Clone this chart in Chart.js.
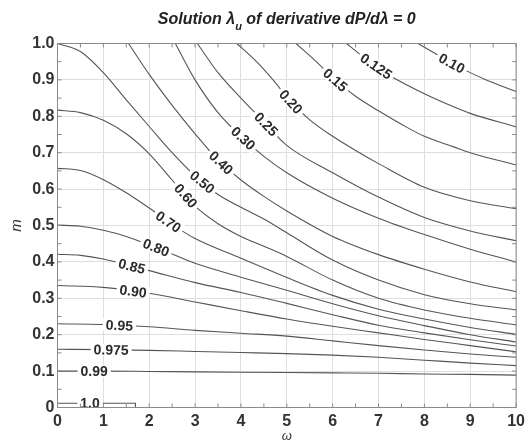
<!DOCTYPE html>
<html>
<head>
<meta charset="utf-8">
<script src="https://cdn.jsdelivr.net/npm/chart.js@4.4.0/dist/chart.umd.min.js"></script>
<style>
  html, body { margin: 0; padding: 0; background: #fff; }
</style>
</head>
<body>
<canvas id="contourChart" width="529" height="443"></canvas>
<script>
// contour levels (lambda_u) and the omega/m points of every line
const levels = ["0.10", "0.125", "0.15", "0.20", "0.25", "0.30", "0.40", "0.50",
                "0.60", "0.70", "0.80", "0.85", "0.90", "0.95", "0.975", "0.99", "1.0"];

const omega010 = [7.86, 8.2, 8.6, 9, 9.35, 10];
const m010 = [1.0, 0.975, 0.946, 0.92, 0.9, 0.868];

const omega0125 = [6.3, 6.6, 6.92, 7.3, 8, 8.64, 9, 10];
const m0125 = [1.0, 0.97, 0.94, 0.908, 0.862, 0.826, 0.808, 0.771];

const omega015 = [5.2, 5.6, 6.06, 6.5, 7, 7.5, 8, 8.64, 9, 10];
const m015 = [1.0, 0.955, 0.9, 0.855, 0.815, 0.778, 0.745, 0.716, 0.7, 0.666];

const omega020 = [3.91, 4.34, 4.7, 5.09, 5.5, 6, 6.5, 7, 8, 9, 10];
const m020 = [1.0, 0.95, 0.9, 0.84, 0.79, 0.745, 0.706, 0.67, 0.605, 0.568, 0.546];

const omega025 = [3.05, 3.5, 4, 4.5, 5, 6, 7, 8, 9, 10];
const m025 = [1.0, 0.92, 0.85, 0.785, 0.72, 0.645, 0.578, 0.522, 0.485, 0.458];

const omega030 = [2.57, 3, 3.5, 4, 4.5, 5, 6, 7, 8, 9, 10];
const m030 = [1.0, 0.9, 0.81, 0.745, 0.69, 0.645, 0.575, 0.52, 0.475, 0.435, 0.40];

const omega040 = [1.55, 2, 2.5, 3, 3.5, 4, 4.5, 5, 6, 7, 8, 9, 10];
const m040 = [1.0, 0.915, 0.83, 0.752, 0.68, 0.625, 0.58, 0.54, 0.47, 0.42, 0.38, 0.345, 0.318];

const omega050 = [0, 0.5, 1, 1.5, 2, 2.5, 3, 3.5, 4, 4.5, 5, 6, 7, 8, 9, 10];
const m050 = [1.0, 0.978, 0.92, 0.845, 0.772, 0.70, 0.636, 0.585, 0.55, 0.518, 0.48, 0.405, 0.35, 0.31, 0.285, 0.268];

const omega060 = [0, 0.5, 1, 1.5, 2, 2.5, 3, 3.5, 4, 4.5, 5, 6, 7, 8, 9, 10];
const m060 = [0.817, 0.81, 0.789, 0.752, 0.697, 0.625, 0.553, 0.505, 0.47, 0.443, 0.415, 0.35, 0.30, 0.268, 0.245, 0.227];

const omega070 = [0, 0.5, 1, 1.5, 2, 2.5, 3, 4, 5, 6, 7, 8, 9, 10];
const m070 = [0.657, 0.651, 0.626, 0.59, 0.548, 0.503, 0.464, 0.41, 0.357, 0.308, 0.27, 0.243, 0.22, 0.201];

const omega080 = [0, 0.5, 1, 1.5, 2, 2.5, 3, 4, 5, 6, 7, 8, 9, 10];
const m080 = [0.501, 0.498, 0.487, 0.47, 0.447, 0.422, 0.396, 0.358, 0.322, 0.285, 0.252, 0.225, 0.2, 0.18];

const omega085 = [0, 0.5, 1, 1.5, 2, 3, 4, 5, 6, 7, 8, 9, 10];
const m085 = [0.421, 0.418, 0.408, 0.392, 0.376, 0.343, 0.316, 0.286, 0.255, 0.226, 0.205, 0.186, 0.169];

const omega090 = [0, 1, 2, 3, 4, 5, 6, 7, 8, 9, 10];
const m090 = [0.335, 0.33, 0.314, 0.29, 0.266, 0.243, 0.223, 0.205, 0.187, 0.17, 0.153];

const omega095 = [0, 1, 2, 3, 4, 5, 6, 7, 8, 9, 10];
const m095 = [0.230, 0.228, 0.222, 0.212, 0.204, 0.196, 0.183, 0.170, 0.158, 0.147, 0.138];

const omega0975 = [0, 1, 2, 3, 4, 5, 6, 7, 8, 9, 10];
const m0975 = [0.160, 0.159, 0.157, 0.154, 0.151, 0.148, 0.144, 0.138, 0.130, 0.122, 0.115];

const omega099 = [0, 1, 2, 3, 4, 5, 6, 7, 8, 9, 10];
const m099 = [0.100, 0.100, 0.099, 0.098, 0.097, 0.096, 0.095, 0.094, 0.092, 0.091, 0.089];

const omega100 = [0, 1.7, 1.7];
const m100 = [0.0115, 0.0115, 0];

// where along omega each level is labelled
const labelOmega = [8.6, 6.95, 6.06, 5.09, 4.55, 4.05, 3.57, 3.16, 2.8, 2.42, 2.15, 1.62, 1.65, 1.35, 1.17, 0.8, 0.71];

const xTicks = [0, 1, 2, 3, 4, 5, 6, 7, 8, 9, 10];

const curves = [
    [omega010, m010], [omega0125, m0125], [omega015, m015], [omega020, m020],
    [omega025, m025], [omega030, m030], [omega040, m040], [omega050, m050],
    [omega060, m060], [omega070, m070], [omega080, m080], [omega085, m085],
    [omega090, m090], [omega095, m095], [omega0975, m0975], [omega099, m099],
    [omega100, m100]
];

function interp(xs, ys, x) {
    if (x <= xs[0]) return ys[0];
    for (let i = 1; i < xs.length; i++) {
        if (x <= xs[i]) {
            const t = (x - xs[i - 1]) / (xs[i] - xs[i - 1] || 1);
            return ys[i - 1] + t * (ys[i] - ys[i - 1]);
        }
    }
    return ys[ys.length - 1];
}

const FONT = "'Liberation Sans', Arial, sans-serif";

// inline contour labels, rotated along the line
const contourLabels = {
    id: "contourLabels",
    afterDatasetsDraw(chart) {
        const ctx = chart.ctx;
        const sx = chart.scales.x, sy = chart.scales.y;
        ctx.save();
        ctx.font = "bold 14px " + FONT;
        ctx.textAlign = "center";
        ctx.textBaseline = "middle";
        levels.forEach(function (lv, i) {
            const xs = curves[i][0], ys = curves[i][1];
            const at = labelOmega[i];
            const px = sx.getPixelForValue(at), py = sy.getPixelForValue(interp(xs, ys, at));
            const xa = sx.getPixelForValue(at - 0.2), ya = sy.getPixelForValue(interp(xs, ys, at - 0.2));
            const xb = sx.getPixelForValue(at + 0.2), yb = sy.getPixelForValue(interp(xs, ys, at + 0.2));
            const ang = lv === "1.0" ? 0 : Math.atan2(yb - ya, xb - xa);
            const w = ctx.measureText(lv).width;
            ctx.save();
            ctx.translate(px, py);
            ctx.rotate(ang);
            ctx.fillStyle = "#ffffff";
            ctx.fillRect(-w / 2 - 3, -6, w + 6, 12);
            ctx.fillStyle = "#2a2a2a";
            ctx.fillText(lv, 0, 1);
            ctx.restore();
        });
        ctx.restore();
    }
};

// box round the plot, small inward ticks, and the title with its subscript
const frameAndTitle = {
    id: "frameAndTitle",
    afterDraw(chart) {
        const ctx = chart.ctx;
        const a = chart.chartArea;
        const sx = chart.scales.x, sy = chart.scales.y;
        ctx.save();
        ctx.strokeStyle = "#8a8a8a";
        ctx.lineWidth = 1;
        ctx.beginPath();
        for (let v = 0; v <= 10.001; v += 0.5) {
            const x = sx.getPixelForValue(v);
            ctx.moveTo(x, a.bottom); ctx.lineTo(x, a.bottom - 4);
            ctx.moveTo(x, a.top); ctx.lineTo(x, a.top + 4);
        }
        for (let v = 0; v <= 1.001; v += 0.05) {
            const y = sy.getPixelForValue(v);
            ctx.moveTo(a.left, y); ctx.lineTo(a.left + 4, y);
            ctx.moveTo(a.right, y); ctx.lineTo(a.right - 4, y);
        }
        ctx.stroke();
        ctx.strokeRect(a.left, a.top, a.right - a.left, a.bottom - a.top);

        const mainFont = "italic bold 16px " + FONT;
        const subFont = "italic bold 11px " + FONT;
        const parts = [["Solution \u03bb", mainFont, 0], ["u", subFont, 6], [" of derivative dP/d\u03bb = 0", mainFont, 0]];
        let total = 0;
        parts.forEach(function (p) { ctx.font = p[1]; total += ctx.measureText(p[0]).width; });
        let x = (a.left + a.right) / 2 - total / 2;
        ctx.fillStyle = "#222";
        ctx.textBaseline = "alphabetic";
        ctx.textAlign = "left";
        parts.forEach(function (p) {
            ctx.font = p[1];
            ctx.fillText(p[0], x, 24 + p[2]);
            x += ctx.measureText(p[0]).width;
        });
        ctx.restore();
    }
};

document.addEventListener("DOMContentLoaded", function () {
    const ctxPlot = document.getElementById("contourChart");
    new Chart(ctxPlot, {
        type: "scatter",
        data: {
            datasets: curves.map(function (c, i) {
                return {
                    label: levels[i],
                    data: c[0].map(function (x, j) { return { x: x, y: c[1][j] }; }),
                    showLine: true,
                    borderColor: "#555555",
                    borderWidth: 1.1,
                    pointRadius: 0,
                    cubicInterpolationMode: levels[i] === "1.0" ? "default" : "monotone",
                    tension: 0,
                };
            }),
        },
        options: {
            responsive: false,
            animation: false,
            devicePixelRatio: 1,
            layout: { padding: { top: 43.5, right: 6.5, left: 0, bottom: 0 } },
            plugins: {
                legend: { display: false },
                tooltip: { enabled: false },
            },
            scales: {
                x: {
                    type: "linear",
                    min: 0,
                    max: 10,
                    afterBuildTicks: function (s) { s.ticks = xTicks.map(function (v) { return { value: v }; }); },
                    afterFit: function (s) { s.height = 35.5; },
                    grid: { color: "#dedede", drawTicks: false },
                    border: { display: false },
                    ticks: { color: "#333", padding: 4, font: { family: FONT, size: 16, weight: "bold" } },
                    title: {
                        display: true,
                        text: "\u03c9",
                        color: "#333",
                        padding: 0,
                        font: { family: FONT, size: 13, style: "italic", lineHeight: 1 },
                    },
                },
                y: {
                    min: 0,
                    max: 1,
                    afterFit: function (s) { s.width = 57.5; },
                    grid: { color: "#dedede", drawTicks: false },
                    border: { display: false },
                    ticks: {
                        stepSize: 0.1,
                        color: "#333",
                        padding: 3,
                        font: { family: FONT, size: 16, weight: "bold" },
                        callback: function (v) { return v === 0 ? "0" : v.toFixed(1); },
                    },
                    title: {
                        display: true,
                        text: "m",
                        color: "#333",
                        padding: { top: 9, bottom: 0 },
                        font: { family: FONT, size: 15, style: "italic", lineHeight: 1 },
                    },
                },
            },
        },
        plugins: [contourLabels, frameAndTitle],
    });
});
</script>
</body>
</html>
